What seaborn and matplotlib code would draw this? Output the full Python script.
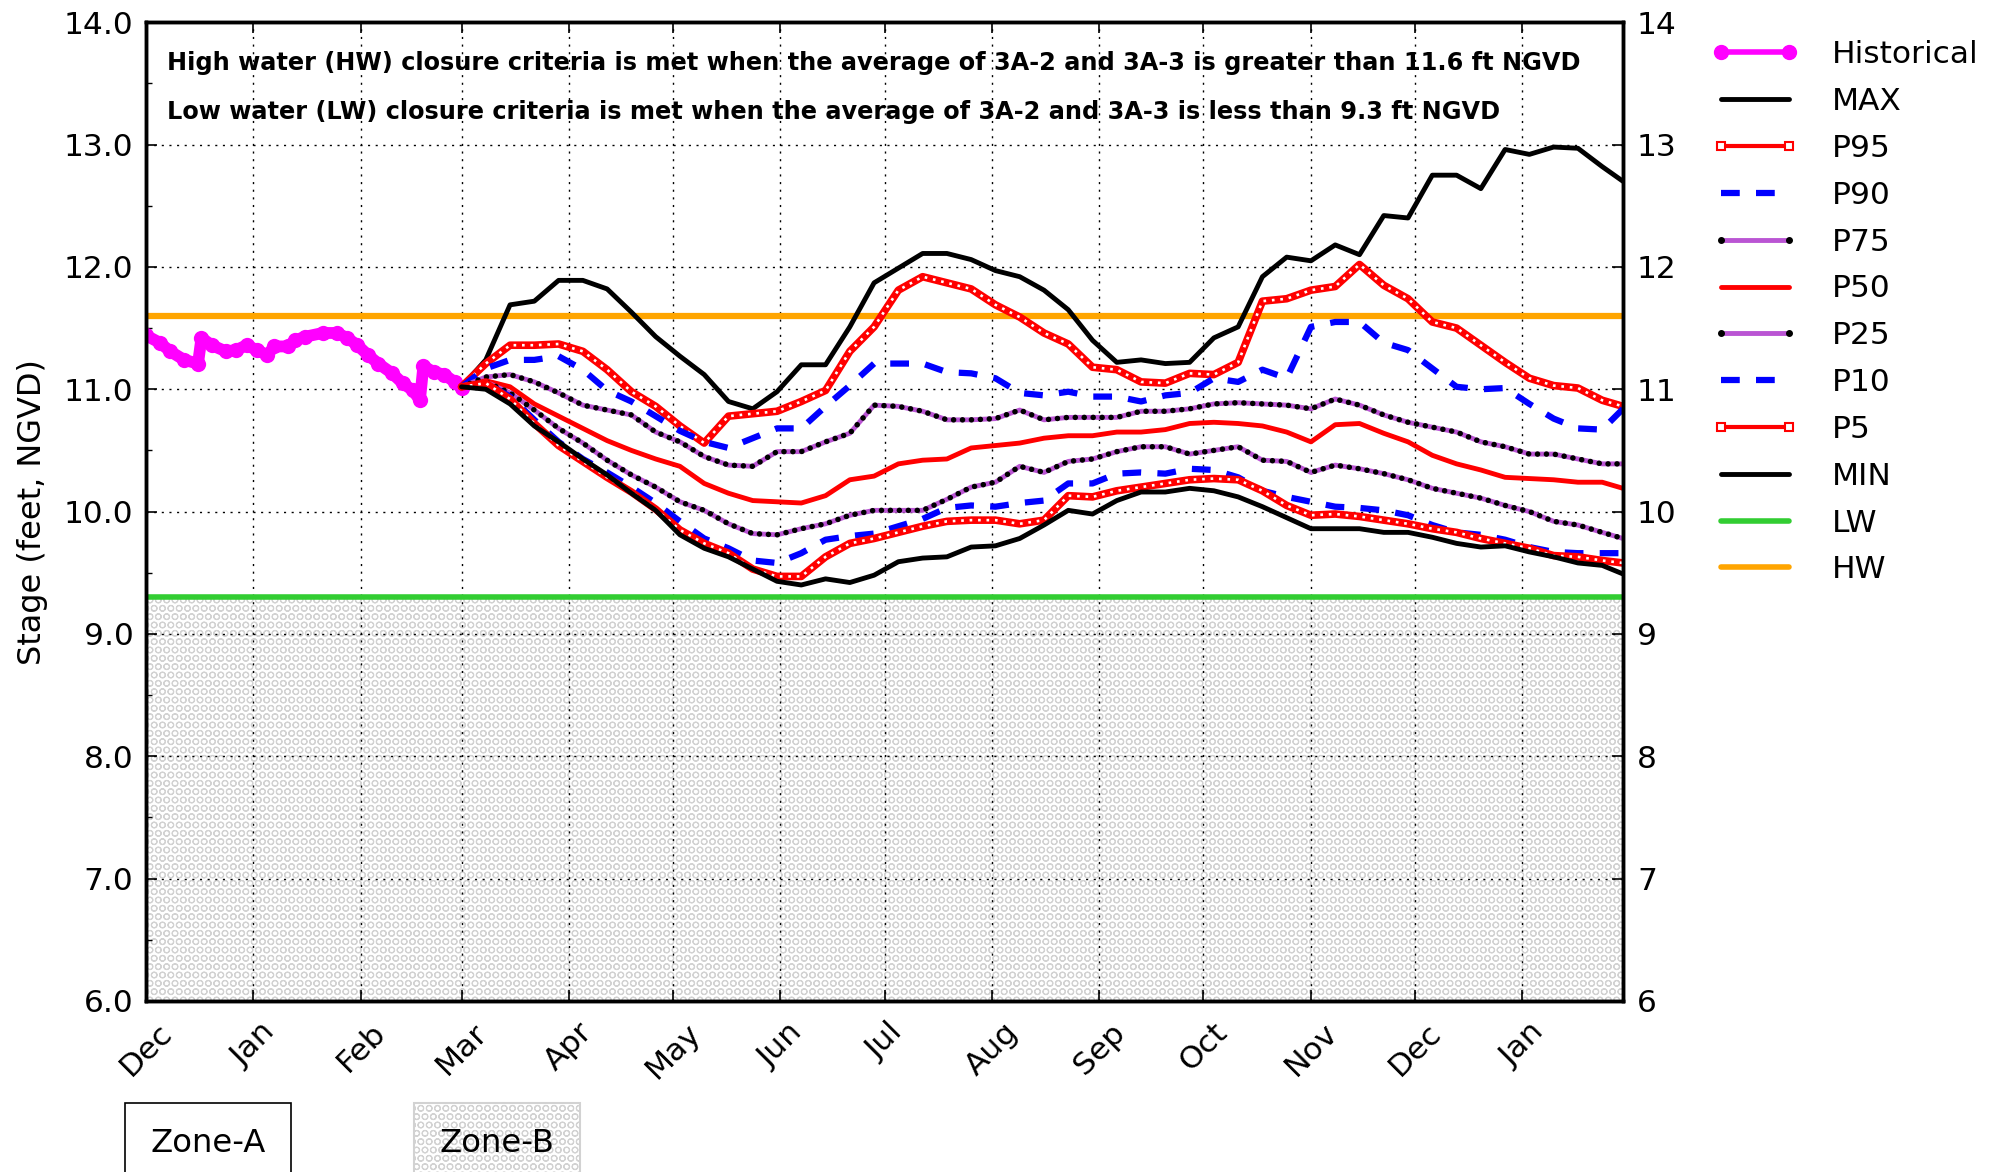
import pandas as pd
import seaborn as sns
import matplotlib.pyplot as plt
import matplotlib.dates as mdates
from matplotlib.lines import Line2D
from matplotlib.ticker import MultipleLocator, FormatStrFormatter

# historical stage, days counted from 2023-12-01
hist_days = [0, 4, 7, 11, 15, 16, 19, 23, 26, 29, 32, 35, 37, 41, 43, 46, 51, 55, 58, 61,
             64, 67, 71, 74, 77, 79, 80, 83, 86, 89, 91]
hist_stage = [11.44, 11.38, 11.31, 11.24, 11.21, 11.42, 11.36, 11.31, 11.32, 11.36,
              11.32, 11.28, 11.35, 11.35, 11.40, 11.43, 11.46, 11.46, 11.42, 11.36,
              11.28, 11.21, 11.13, 11.05, 10.99, 10.91, 11.19, 11.14, 11.12, 11.06, 11.01]

# forecast percentiles, days counted from 2024-03-01
fc_days = [0, 7, 14, 21, 28, 35, 42, 49, 56, 63, 70, 77, 84, 91, 98, 105, 112, 119, 126, 133,
           140, 147, 154, 161, 168, 175, 182, 189, 196, 203, 210, 217, 224, 231, 238, 245,
           252, 259, 266, 273, 280, 287, 294, 301, 308, 315, 322, 329, 335]

stage_max = [11.02, 11.24, 11.69, 11.72, 11.89, 11.89, 11.82, 11.63, 11.43, 11.27,
             11.12, 10.90, 10.84, 10.98, 11.20, 11.20, 11.51, 11.87, 11.99, 12.11,
             12.11, 12.06, 11.97, 11.92, 11.81, 11.65, 11.40, 11.22, 11.24,
             11.21, 11.22, 11.42, 11.51, 11.92, 12.08, 12.05, 12.18, 12.10, 12.42,
             12.40, 12.75, 12.75, 12.64, 12.96, 12.92, 12.98, 12.97, 12.82, 12.70]
stage_p95 = [11.02, 11.21, 11.36, 11.36, 11.37, 11.31, 11.16, 10.98, 10.86, 10.70,
             10.56, 10.78, 10.80, 10.82, 10.90, 10.99, 11.31, 11.51, 11.81, 11.92,
             11.87, 11.82, 11.69, 11.59, 11.46, 11.37, 11.18, 11.16, 11.06,
             11.05, 11.13, 11.12, 11.22, 11.72, 11.74, 11.81, 11.84, 12.02, 11.85,
             11.74, 11.55, 11.50, 11.36, 11.22, 11.09, 11.03, 11.01, 10.91, 10.86]
stage_p90 = [11.02, 11.17, 11.24, 11.24, 11.27, 11.16, 10.99, 10.90, 10.78, 10.66,
             10.57, 10.52, 10.60, 10.68, 10.68, 10.86, 11.03, 11.21, 11.21, 11.21,
             11.14, 11.13, 11.09, 10.97, 10.95, 10.98, 10.94, 10.94, 10.90,
             10.95, 10.97, 11.09, 11.06, 11.16, 11.09, 11.51, 11.55, 11.55, 11.38,
             11.32, 11.17, 11.02, 11.00, 11.01, 10.88, 10.76, 10.68, 10.67, 10.84]
stage_p75 = [11.02, 11.10, 11.12, 11.06, 10.97, 10.87, 10.83, 10.79, 10.65, 10.57,
             10.45, 10.38, 10.37, 10.49, 10.49, 10.57, 10.64, 10.87, 10.86, 10.82,
             10.75, 10.75, 10.76, 10.83, 10.75, 10.77, 10.77, 10.77, 10.82,
             10.82, 10.84, 10.88, 10.89, 10.88, 10.87, 10.84, 10.92, 10.87, 10.79,
             10.73, 10.69, 10.65, 10.57, 10.53, 10.47, 10.47, 10.43, 10.39, 10.39]
stage_p50 = [11.02, 11.07, 11.02, 10.88, 10.78, 10.68, 10.58, 10.50, 10.43, 10.37,
             10.23, 10.15, 10.09, 10.08, 10.07, 10.13, 10.26, 10.29, 10.39, 10.42,
             10.43, 10.52, 10.54, 10.56, 10.60, 10.62, 10.62, 10.65, 10.65,
             10.67, 10.72, 10.73, 10.72, 10.70, 10.65, 10.57, 10.71, 10.72, 10.64,
             10.57, 10.46, 10.39, 10.34, 10.28, 10.27, 10.26, 10.24, 10.24, 10.19]
stage_p25 = [11.02, 11.06, 10.97, 10.83, 10.68, 10.56, 10.42, 10.30, 10.20, 10.08,
             10.01, 9.90, 9.82, 9.81, 9.86, 9.90, 9.97, 10.01, 10.01, 10.01,
             10.10, 10.20, 10.24, 10.37, 10.32, 10.41, 10.43, 10.49, 10.53,
             10.53, 10.47, 10.50, 10.53, 10.42, 10.41, 10.32, 10.38, 10.35, 10.31,
             10.26, 10.19, 10.15, 10.11, 10.05, 10.00, 9.92, 9.89, 9.83, 9.78]
stage_p10 = [11.02, 11.05, 10.94, 10.75, 10.57, 10.43, 10.32, 10.20, 10.07, 9.92,
             9.78, 9.70, 9.60, 9.58, 9.66, 9.77, 9.80, 9.82, 9.88, 9.94,
             10.03, 10.05, 10.04, 10.07, 10.09, 10.23, 10.23, 10.31, 10.32,
             10.31, 10.35, 10.34, 10.28, 10.17, 10.12, 10.08, 10.04, 10.03, 10.01,
             9.97, 9.89, 9.83, 9.81, 9.77, 9.71, 9.67, 9.66, 9.66, 9.66]
stage_p5 = [11.02, 11.05, 10.92, 10.72, 10.54, 10.41, 10.28, 10.16, 10.02, 9.85,
            9.74, 9.66, 9.53, 9.47, 9.47, 9.63, 9.74, 9.78, 9.83, 9.88,
            9.92, 9.93, 9.93, 9.90, 9.93, 10.13, 10.12, 10.17, 10.20,
            10.23, 10.26, 10.27, 10.26, 10.17, 10.05, 9.97, 9.98, 9.96, 9.93,
            9.90, 9.86, 9.83, 9.78, 9.74, 9.70, 9.64, 9.63, 9.60, 9.58]
stage_min = [11.02, 11.00, 10.88, 10.70, 10.57, 10.43, 10.30, 10.15, 10.01, 9.81,
             9.70, 9.63, 9.53, 9.43, 9.40, 9.45, 9.42, 9.48, 9.59, 9.62,
             9.63, 9.71, 9.72, 9.78, 9.89, 10.01, 9.98, 10.09, 10.16,
             10.16, 10.19, 10.17, 10.12, 10.04, 9.95, 9.86, 9.86, 9.86, 9.83,
             9.83, 9.79, 9.74, 9.71, 9.72, 9.67, 9.63, 9.58, 9.56, 9.49]

hw_level = 11.6
lw_level = 9.3

FS = 22.5

hist = pd.DataFrame({
    "date": pd.Timestamp("2023-12-01") + pd.to_timedelta(hist_days, unit="D"),
    "stage": hist_stage,
})
fc = pd.DataFrame({
    "date": pd.Timestamp("2024-03-01") + pd.to_timedelta(fc_days, unit="D"),
    "MAX": stage_max, "P95": stage_p95, "P90": stage_p90, "P75": stage_p75,
    "P50": stage_p50, "P25": stage_p25, "P10": stage_p10, "P5": stage_p5,
    "MIN": stage_min,
})

sns.set_style("white")
plt.rcParams['font.family'] = ['DejaVu Sans']
plt.rcParams['text.color'] = 'black'
plt.rcParams['axes.labelcolor'] = 'black'
plt.rcParams['xtick.color'] = 'black'
plt.rcParams['ytick.color'] = 'black'
plt.rcParams['hatch.linewidth'] = 0.8

fig, ax = plt.subplots(figsize=(20, 11.72), dpi=100)
fig.subplots_adjust(left=0.073, right=0.8115, top=0.981, bottom=0.146)

# zone B shading below the low water criteria
ax.axhspan(6, lw_level, facecolor='white', edgecolor='#d2d2d2', hatch='OO', lw=0, zorder=0)
ax.axhline(hw_level, color='orange', lw=4.5, zorder=1.5)
ax.axhline(lw_level, color='limegreen', lw=4, zorder=1.5)

sns.lineplot(data=hist, x="date", y="stage", ax=ax, color='magenta', lw=8.5,
             marker='o', ms=11, mec='magenta', mew=0, estimator=None, errorbar=None)


def solid(col, color):
    sns.lineplot(data=fc, x="date", y=col, ax=ax, color=color, lw=3.5,
                 estimator=None, errorbar=None)


def squares(col):
    sns.lineplot(data=fc, x="date", y=col, ax=ax, color='red', lw=5.5,
                 estimator=None, errorbar=None)
    sns.lineplot(data=fc, x="date", y=col, ax=ax, color='white', lw=1.9,
                 linestyle=(0, (1.0, 2.2)), dash_capstyle='butt',
                 estimator=None, errorbar=None)


def dashed(col):
    sns.lineplot(data=fc, x="date", y=col, ax=ax, color='blue', lw=4.5,
                 linestyle=(0, (3, 2.6)), estimator=None, errorbar=None)


def dotted(col):
    sns.lineplot(data=fc, x="date", y=col, ax=ax, color='mediumorchid', lw=3.5,
                 estimator=None, errorbar=None)
    sns.lineplot(data=fc, x="date", y=col, ax=ax, color='black', lw=4.0,
                 linestyle=(0, (0.01, 1.6)), dash_capstyle='round',
                 estimator=None, errorbar=None)


solid("MAX", 'black')
squares("P95")
dashed("P90")
dotted("P75")
solid("P50", 'red')
dotted("P25")
dashed("P10")
squares("P5")
solid("MIN", 'black')

ax.set_xlim(pd.Timestamp("2023-12-01"), pd.Timestamp("2025-01-30"))
ax.set_ylim(6, 14)
ax.xaxis.set_major_locator(mdates.MonthLocator())
ax.xaxis.set_major_formatter(mdates.DateFormatter('%b'))
ax.yaxis.set_major_locator(MultipleLocator(1))
ax.yaxis.set_minor_locator(MultipleLocator(0.5))
ax.yaxis.set_major_formatter(FormatStrFormatter('%.1f'))
ax.grid(True, which='major', color='black', linestyle=(0, (1.5, 4)), lw=1.0)
ax.tick_params(axis='x', which='major', direction='in', length=8, width=1.2,
               labelsize=FS, pad=12, top=True, bottom=True)
ax.tick_params(axis='y', which='major', direction='in', length=8, width=1.2,
               labelsize=FS, pad=9, left=True, right=False)
ax.tick_params(axis='y', which='minor', direction='in', length=4, width=1.0, left=True)
plt.setp(ax.get_xticklabels(), rotation=45)
ax.set_xlabel("")
ax.set_ylabel("Stage (feet, NGVD)", fontsize=23, labelpad=11)
for sp in ax.spines.values():
    sp.set_linewidth(2.5)
    sp.set_color('black')

ax2 = ax.twinx()
ax2.set_ylim(6, 14)
ax2.yaxis.set_major_locator(MultipleLocator(1))
ax2.yaxis.set_major_formatter(FormatStrFormatter('%d'))
ax2.tick_params(axis='y', direction='in', length=8, width=1.2, labelsize=FS, pad=10)
ax2.grid(False)
for sp in ax2.spines.values():
    sp.set_linewidth(2.5)
    sp.set_color('black')

ax.text(0.0142, 0.9586,
        "High water (HW) closure criteria is met when the average of 3A-2 and 3A-3 is greater than 11.6 ft NGVD",
        transform=ax.transAxes, fontsize=17.3, fontweight='bold', va='center')
ax.text(0.0142, 0.908,
        "Low water (LW) closure criteria is met when the average of 3A-2 and 3A-3 is less than 9.3 ft NGVD",
        transform=ax.transAxes, fontsize=17.3, fontweight='bold', va='center')

sq = dict(color='red', lw=3, marker='s', ms=6, mfc='white', mec='red', mew=1.5)
dt = dict(color='mediumorchid', lw=3.5, marker='o', ms=4, mfc='black', mec='black')
bl = dict(color='blue', lw=4.5, linestyle=(0, (3, 2.6)))
handles = [
    Line2D([], [], color='magenta', lw=4, marker='o', ms=10, mec='magenta'),
    Line2D([], [], color='black', lw=3.5),
    Line2D([], [], **sq),
    Line2D([], [], **bl),
    Line2D([], [], **dt),
    Line2D([], [], color='red', lw=3.5),
    Line2D([], [], **dt),
    Line2D([], [], **bl),
    Line2D([], [], **sq),
    Line2D([], [], color='black', lw=3.5),
    Line2D([], [], color='limegreen', lw=4),
    Line2D([], [], color='orange', lw=4),
]
labels = ["Historical", "MAX", "P95", "P90", "P75", "P50", "P25", "P10", "P5", "MIN", "LW", "HW"]
fig.legend(handles, labels, loc='upper left', bbox_to_anchor=(0.856, 0.9655),
           frameon=False, fontsize=FS, numpoints=2, handlelength=2.75,
           handletextpad=1.1, labelspacing=0.57, borderpad=0, borderaxespad=0)

fig.text(0.104, 0.024, "Zone-A", fontsize=23.2, ha='center', va='center',
         bbox=dict(boxstyle='square,pad=0.78', fc='white', ec='black', lw=1.2))
fig.text(0.2485, 0.024, "Zone-B", fontsize=23.2, ha='center', va='center',
         bbox=dict(boxstyle='square,pad=0.78', fc='white', ec='#d2d2d2', lw=1.5, hatch='OO'))

fig.savefig("out.png", dpi=100)
